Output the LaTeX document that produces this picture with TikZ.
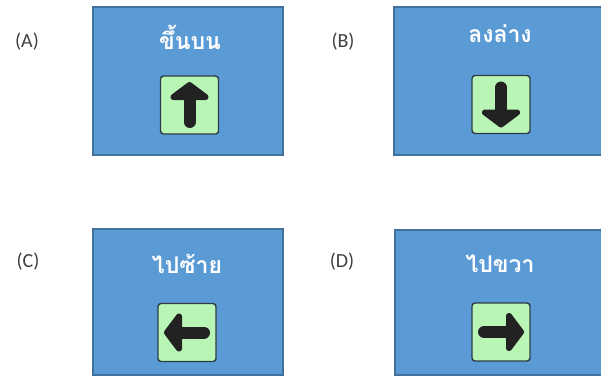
\documentclass[tikz,border=0pt]{standalone}
\usepackage{fontspec}
\setmainfont{Carlito}
\newfontfamily\thaifont[Script=Thai]{Loma}
\definecolor{boxblue}{HTML}{5B9BD5}
\definecolor{boxedge}{HTML}{41719C}
\definecolor{btngreen}{HTML}{B9F6B5}
\definecolor{btnedge}{HTML}{2E3B47}
\definecolor{arrowblack}{HTML}{222222}
\definecolor{labelgray}{HTML}{404040}
\tikzset{
  panel/.style={draw=boxedge, line width=1.2pt, fill=boxblue},
  btn/.style={draw=btnedge, line width=1.4pt, fill=btngreen, rounded corners=3pt, minimum width=58pt, minimum height=58pt, inner sep=0pt},
  ttl/.style={text=white, font=\thaifont\bfseries\fontsize{23}{26}\selectfont, anchor=base, inner sep=0pt},
  lbl/.style={text=labelgray, font=\fontsize{20}{24}\selectfont, inner sep=0pt},
  pics/arrowglyph/.style={code={
    \draw[arrowblack, line width=12pt, line cap=round] (0,17) -- (0,-8);
    \filldraw[arrowblack, line width=6pt, line join=round] (0,-20) -- (-16,-8) -- (16,-8) -- cycle;
  }}
}
\begin{document}
\begin{tikzpicture}[x=1pt,y=-1pt]
\useasboundingbox (0,0) rectangle (601,376);
\clip (0,0) rectangle (601,376);
% panels
\node[panel, minimum width=190pt, minimum height=148pt, inner sep=0pt] (pA) at (188,81) {};
\node[panel, minimum width=216pt, minimum height=148pt, inner sep=0pt] (pB) at (502,81) {};
\node[panel, minimum width=190pt, minimum height=146pt, inner sep=0pt] (pC) at (188,302) {};
\node[panel, minimum width=216pt, minimum height=145pt, inner sep=0pt] (pD) at (503,302.5) {};
% labels
\node[lbl] (lA) at (27,42) {(A)};
\node[lbl] (lB) at (343,42) {(B)};
\node[lbl] (lC) at (28,262) {(C)};
\node[lbl] (lD) at (342,262) {(D)};
% titles
\node[ttl] (tA) at (190,49) {ขึ้นบน};
\node[ttl] (tB) at (500,42) {ลงล่าง};
\node[ttl] (tC) at (187,273) {ไปซ้าย};
\node[ttl] (tD) at (500,272) {ไปขวา};
% buttons
\node[btn] (bA) at (189.5,105) {};
\node[btn] (bB) at (501,104.5) {};
\node[btn] (bC) at (187,332.5) {};
\node[btn] (bD) at (501,332) {};
% arrows
\pic at (bA.center) {arrowglyph};
\pic[rotate=180] at (bB.center) {arrowglyph};
\pic[rotate=90] at (bC.center) {arrowglyph};
\pic[rotate=-90] at (bD.center) {arrowglyph};
\end{tikzpicture}
\end{document}
